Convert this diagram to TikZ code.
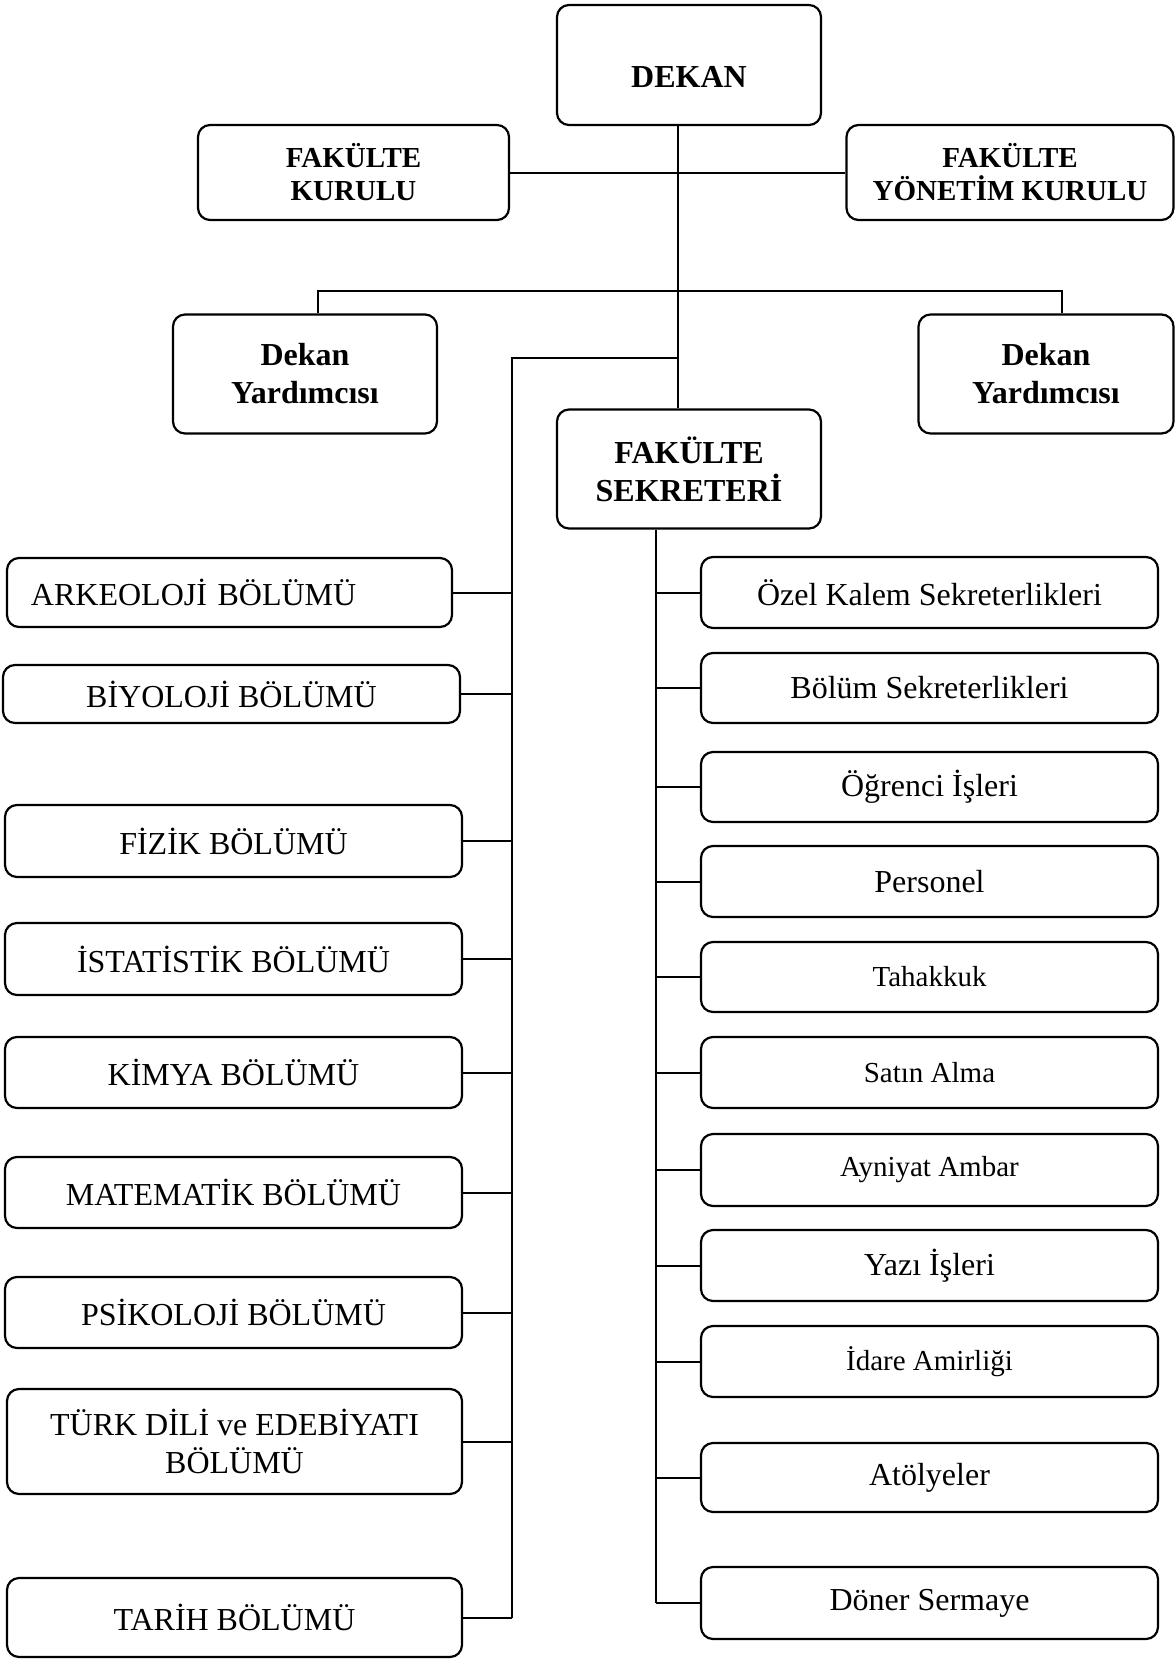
\documentclass[tikz,border=0pt]{standalone}
\usepackage{fontspec}
\setmainfont{Liberation Serif}

\tikzset{
  box/.style={draw, line width=1.1pt, rounded corners=6pt, align=center, inner sep=2pt},
  boxsize/.style 2 args={minimum width=#1*0.5pt, minimum height=#2*0.5pt},
  headtext/.style={font=\fontsize{16}{19}\selectfont\bfseries},
  kurultext/.style={font=\fontsize{14.5}{16.5}\selectfont\bfseries},
  unittext/.style={font=\fontsize{16}{19}\selectfont},
  smalltext/.style={font=\fontsize{14.5}{17}\selectfont},
  link/.style={line width=1pt}
}

\begin{document}
\begin{tikzpicture}[x=0.5pt, y=-0.5pt]
  \useasboundingbox (0,0) rectangle (1175,1659);

  % Top level
  \node[box, headtext, boxsize={264}{120}, text height=23pt, text depth=0pt] (dekan) at (689,65) {DEKAN};
  \node[box, kurultext, boxsize={311}{95}] (fkurul) at (353.5,172.5) {FAKÜLTE\\KURULU};
  \node[box, kurultext, boxsize={327}{95}] (fyk) at (1010,172.5) {FAKÜLTE\\YÖNETİM KURULU};

  % Deputies and secretary
  \node[box, headtext, boxsize={264}{119}] (yard1) at (305,374) {Dekan\\Yardımcısı};
  \node[box, headtext, boxsize={255}{119}] (yard2) at (1046,374) {Dekan\\Yardımcısı};
  \node[box, headtext, boxsize={264}{119}] (sekreter) at (689,469) {FAKÜLTE\\SEKRETERİ};

  % Departments (left column)
  \node[box, unittext, boxsize={445}{69}, text width=198.5pt, align=left, inner xsep=12pt] (arkeo) at (229.5,592.5) {ARKEOLOJİ BÖLÜMÜ};
  \node[box, unittext, boxsize={457}{58}] (biyo) at (231.5,694) {BİYOLOJİ BÖLÜMÜ};
  \node[box, unittext, boxsize={457}{72}] (fizik) at (233.5,841) {FİZİK BÖLÜMÜ};
  \node[box, unittext, boxsize={457}{72}] (ista) at (233.5,959) {İSTATİSTİK BÖLÜMÜ};
  \node[box, unittext, boxsize={457}{71}] (kimya) at (233.5,1072.5) {KİMYA BÖLÜMÜ};
  \node[box, unittext, boxsize={457}{71}] (mate) at (233.5,1192.5) {MATEMATİK BÖLÜMÜ};
  \node[box, unittext, boxsize={457}{71}] (psiko) at (233.5,1312.5) {PSİKOLOJİ BÖLÜMÜ};
  \node[box, unittext, boxsize={455}{105}] (turk) at (234.5,1441.5) {TÜRK DİLİ ve EDEBİYATI\\BÖLÜMÜ};
  \node[box, unittext, boxsize={455}{79}] (tarih) at (234.5,1617.5) {TARİH BÖLÜMÜ};

  % Secretary units (right column)
  \node[box, unittext, boxsize={457}{71}] (ozel) at (929.5,592.5) {Özel Kalem Sekreterlikleri};
  \node[box, unittext, boxsize={457}{70}] (bolum) at (929.5,688) {Bölüm Sekreterlikleri};
  \node[box, unittext, boxsize={457}{70}] (ogrenci) at (929.5,787) {Öğrenci İşleri};
  \node[box, unittext, boxsize={457}{71}] (personel) at (929.5,881.5) {Personel};
  \node[box, smalltext, boxsize={457}{70}] (tahakkuk) at (929.5,977) {Tahakkuk};
  \node[box, smalltext, boxsize={457}{71}] (satin) at (929.5,1072.5) {Satın Alma};
  \node[box, smalltext, boxsize={457}{72}] (ayniyat) at (929.5,1170) {Ayniyat Ambar};
  \node[box, unittext, boxsize={457}{71}] (yazi) at (929.5,1265.5) {Yazı İşleri};
  \node[box, smalltext, boxsize={457}{71}] (idare) at (929.5,1361.5) {İdare Amirliği};
  \node[box, unittext, boxsize={457}{69}] (atolye) at (929.5,1477.5) {Atölyeler};
  \node[box, unittext, boxsize={457}{72}] (doner) at (929.5,1603) {Döner Sermaye};

  % Trunk lines
  \coordinate (trunk) at (678,0);
  \coordinate (yleft) at (318,291);
  \coordinate (yright) at (1062,291);
  \coordinate (ltrunk) at (512,357.5);
  \coordinate (rtrunk) at (656,0);

  \draw[link] (dekan.south -| trunk) -- (sekreter.north -| trunk);
  \draw[link] (fkurul.east) -- (fyk.west);
  \draw[link] (yard1.north -| yleft) -- (yleft) -- (yright) -- (yard2.north -| yright);

  % Departments branch
  \draw[link] (ltrunk -| trunk) -- (ltrunk) -- (tarih.east -| ltrunk);
  \draw[link] (arkeo.east) -- (arkeo.east -| ltrunk);
  \draw[link] (biyo.east) -- (biyo.east -| ltrunk);
  \draw[link] (fizik.east) -- (fizik.east -| ltrunk);
  \draw[link] (ista.east) -- (ista.east -| ltrunk);
  \draw[link] (kimya.east) -- (kimya.east -| ltrunk);
  \draw[link] (mate.east) -- (mate.east -| ltrunk);
  \draw[link] (psiko.east) -- (psiko.east -| ltrunk);
  \draw[link] (turk.east) -- (turk.east -| ltrunk);
  \draw[link] (tarih.east) -- (tarih.east -| ltrunk);

  % Secretary branch
  \draw[link] (sekreter.south -| rtrunk) -- (doner.west -| rtrunk);
  \draw[link] (ozel.west -| rtrunk) -- (ozel.west);
  \draw[link] (bolum.west -| rtrunk) -- (bolum.west);
  \draw[link] (ogrenci.west -| rtrunk) -- (ogrenci.west);
  \draw[link] (personel.west -| rtrunk) -- (personel.west);
  \draw[link] (tahakkuk.west -| rtrunk) -- (tahakkuk.west);
  \draw[link] (satin.west -| rtrunk) -- (satin.west);
  \draw[link] (ayniyat.west -| rtrunk) -- (ayniyat.west);
  \draw[link] (yazi.west -| rtrunk) -- (yazi.west);
  \draw[link] (idare.west -| rtrunk) -- (idare.west);
  \draw[link] (atolye.west -| rtrunk) -- (atolye.west);
  \draw[link] (doner.west -| rtrunk) -- (doner.west);
\end{tikzpicture}
\end{document}
